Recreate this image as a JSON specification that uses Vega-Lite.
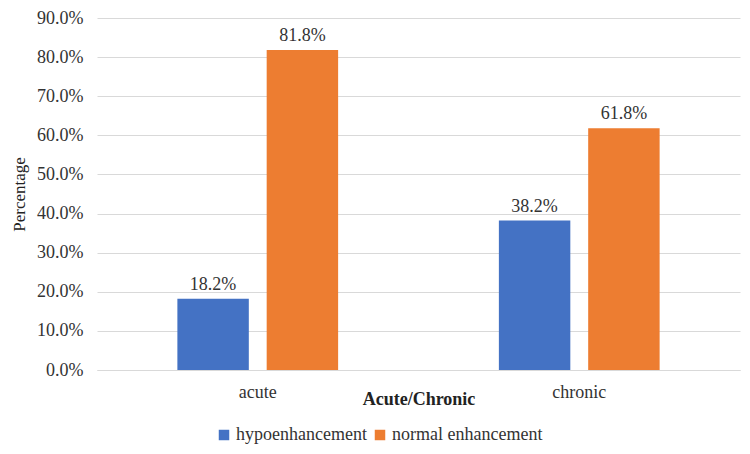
{
  "$schema": "https://vega.github.io/schema/vega-lite/v6.json",
  "width": 643,
  "height": 352,
  "autosize": {"type": "none"},
  "padding": {"left": 97, "top": 18, "right": 10, "bottom": 84},
  "background": "white",
  "config": {
    "font": "Liberation Serif",
    "view": {"stroke": null}
  },
  "data": {
    "values": [
      {"type": "acute", "group": "hypoenhancement", "value": 0.182},
      {"type": "acute", "group": "normal enhancement", "value": 0.818},
      {"type": "chronic", "group": "hypoenhancement", "value": 0.382},
      {"type": "chronic", "group": "normal enhancement", "value": 0.618}
    ]
  },
  "encoding": {
    "x": {
      "field": "type", "type": "nominal",
      "scale": {"paddingInner": 0.5, "paddingOuter": 0.25},
      "axis": {
        "title": "Acute/Chronic", "labelAngle": 0, "labelFont": "Liberation Serif", "labelFontSize": 18, "labelColor": "#333333",
        "labelPadding": 13, "ticks": false, "domainColor": "#d9d9d9",
        "titleFont": "Liberation Serif", "titleFontSize": 18, "titleFontWeight": "bold", "titleColor": "#222222",
        "titleY": 20, "titleX": 321.5
      }
    },
    "xOffset": {"field": "group", "scale": {"paddingInner": 0.2}},
    "y": {
      "field": "value", "type": "quantitative",
      "scale": {"domain": [0, 0.9]},
      "axis": {
        "title": "Percentage", "format": ".1%", "values": [0, 0.1, 0.2, 0.3, 0.4, 0.5, 0.6, 0.7, 0.8, 0.9],
        "labelFont": "Liberation Serif", "labelFontSize": 18, "labelColor": "#333333", "labelPadding": 14,
        "ticks": false, "domain": false, "gridColor": "#d9d9d9",
        "titleFont": "Liberation Serif", "titleFontSize": 17, "titleFontWeight": "normal", "titleColor": "#222222", "titlePadding": 8
      }
    }
  },
  "layer": [
    {
      "mark": {"type": "bar"},
      "encoding": {
        "color": {
          "field": "group", "type": "nominal",
          "scale": {"range": ["#4472C4", "#ED7D31"]},
          "legend": {
            "title": null, "orient": "none", "legendX": 118, "legendY": 408, "direction": "horizontal",
            "symbolType": "square", "symbolSize": 110, "symbolStrokeWidth": 0,
            "labelFont": "Liberation Serif", "labelFontSize": 18, "labelColor": "#333333", "columnPadding": 4, "labelOffset": 3
          }
        }
      }
    },
    {
      "mark": {"type": "text", "dy": -14, "fontSize": 18, "font": "Liberation Serif", "color": "#333333"},
      "encoding": {
        "text": {"field": "value", "type": "quantitative", "format": ".1%"}
      }
    }
  ]
}
